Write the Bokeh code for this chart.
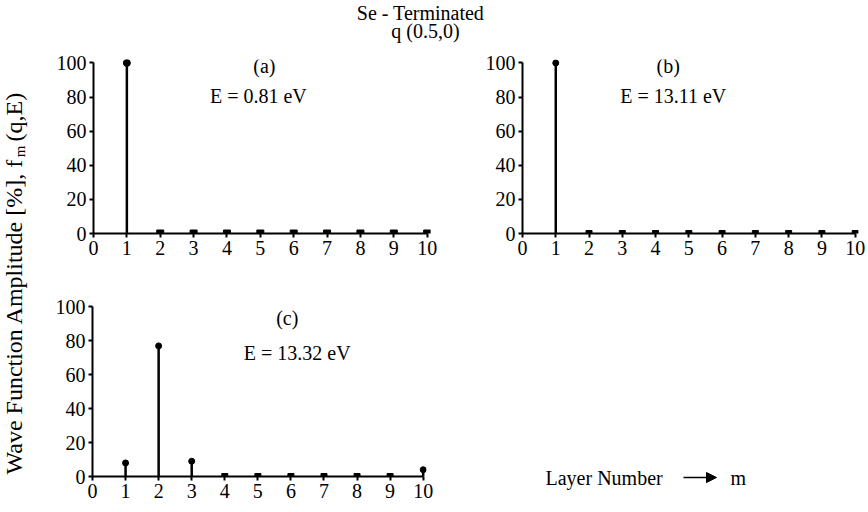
import numpy as np
from bokeh.plotting import figure
from bokeh.layouts import row, column
from bokeh.models import (Range1d, FixedTicker, Label, Arrow, NormalHead,
                          ColumnDataSource)
from bokeh.embed import file_html
from bokeh.resources import INLINE

# ---------------- data ----------------
layers = [1, 2, 3, 4, 5, 6, 7, 8, 9, 10]
amp_a = [100, 0, 0, 0, 0, 0, 0, 0, 0, 0]
amp_b = [100, 0, 0, 0, 0, 0, 0, 0, 0, 0]
amp_c = [8, 77, 9, 0, 0, 0, 0, 0, 0, 4]
x_ticks = [0, 1, 2, 3, 4, 5, 6, 7, 8, 9, 10]
y_ticks = [0, 20, 40, 60, 80, 100]
panel_tags = ["(a)", "(b)", "(c)"]
energies = ["E = 0.81 eV", "E = 13.11 eV", "E = 13.32 eV"]
title_lines = ["Se - Terminated", "q (0.5,0)"]
y_label_main = "Wave Function Amplitude [%], f"
y_label_sub = "m"
y_label_tail = "(q,E)"
x_label = "Layer Number"
x_symbol = "m"

FONT = "'Liberation Serif', 'Times New Roman', serif"
FS = "20px"


def blank(width, height, y_range=None, bt=0, bb=0):
    f = figure(width=width, height=height, x_range=Range1d(0, width),
               y_range=y_range if y_range is not None else Range1d(0, height),
               output_backend="svg",
               toolbar_location=None, x_axis_location=None,
               y_axis_location=None, min_border=0, title=None,
               min_border_top=bt, min_border_bottom=bb)
    f.grid.visible = False
    f.outline_line_color = None
    f.background_fill_color = "white"
    f.border_fill_color = "white"
    return f


def panel(vals, width, height, bl, br, bt, bb, tag, energy, tag_xy, e_xy,
          msize):
    p = figure(width=width, height=height, x_range=Range1d(0, 10.1),
               y_range=Range1d(0, 102), output_backend="svg",
               toolbar_location=None, title=None,
               min_border_left=bl, min_border_right=br,
               min_border_top=bt, min_border_bottom=bb)
    p.grid.visible = False
    p.outline_line_color = None
    p.background_fill_color = "white"
    p.border_fill_color = "white"

    for ax in (p.xaxis[0], p.yaxis[0]):
        ax.axis_line_width = 2
        ax.axis_line_color = "black"
        ax.major_tick_line_width = 2
        ax.major_tick_line_color = "black"
        ax.minor_tick_line_color = None
        ax.major_tick_in = 0
        ax.major_tick_out = 4
        ax.major_label_text_font = FONT
        ax.major_label_text_font_size = FS
        ax.major_label_text_color = "black"
    p.xaxis.ticker = FixedTicker(ticks=x_ticks)
    p.yaxis.ticker = FixedTicker(ticks=y_ticks)
    p.xaxis.bounds = (0, 10)
    p.yaxis.bounds = (0, 100)
    p.xaxis.major_label_standoff = 3
    p.yaxis.major_label_standoff = 3

    src = ColumnDataSource(dict(
        x=layers, y=vals,
        marker=["circle" if v > 0 else "square" for v in vals]))
    p.segment(x0="x", y0=0, x1="x", y1="y", source=src,
              line_color="black", line_width=2.5)
    p.scatter(x="x", y="y", marker="marker", size=msize, source=src,
              fill_color="black", line_color="black")

    p.add_layout(Label(x=tag_xy[0], y=tag_xy[1], text=tag, text_font=FONT,
                       text_font_size=FS, text_align="center",
                       text_baseline="middle", text_color="black"))
    p.add_layout(Label(x=e_xy[0], y=e_xy[1], text=energy, text_font=FONT,
                       text_font_size=FS, text_align="center",
                       text_baseline="middle", text_color="black"))
    return p


pa = panel(amp_a, 430, 227, 53, 40, 15, 38, panel_tags[0], energies[0],
           (5.12, 98.2), (4.94, 80.7), 7)
pb = panel(amp_b, 398, 227, 52, 10, 15, 38, panel_tags[1], energies[1],
           (4.38, 98.2), (4.53, 80.7), 6)
pc = panel(amp_c, 430, 241, 52, 44, 32, 36, panel_tags[2], energies[2],
           (5.89, 93.5), (6.19, 72.9), 6)

# title
pt = blank(828, 44)
pt.add_layout(Label(x=380, y=32, text=title_lines[0], text_font=FONT,
                    text_font_size=FS, text_align="center",
                    text_baseline="middle", text_color="black"))
pt.add_layout(Label(x=385, y=14, text=title_lines[1], text_font=FONT,
                    text_font_size=FS, text_align="center",
                    text_baseline="middle", text_color="black"))

# y label
py = blank(40, 512)
py.add_layout(Label(x=13, y=354, text=y_label_main, angle=np.pi / 2,
                    text_font=FONT, text_font_size="24px", text_align="right",
                    text_baseline="middle", text_color="black"))
py.add_layout(Label(x=19, y=361, text=y_label_sub, angle=np.pi / 2,
                    text_font=FONT, text_font_size="15px", text_align="center",
                    text_baseline="middle", text_color="black"))
py.add_layout(Label(x=13, y=371, text=y_label_tail, angle=np.pi / 2,
                    text_font=FONT, text_font_size="24px", text_align="left",
                    text_baseline="middle", text_color="black"))

# x label area (lower right); wrapped in its own column so its frame is
# not aligned with panel (c)'s frame
pd = blank(398, 241)
pd.add_layout(Label(x=75, y=35, text=x_label, text_font=FONT,
                    text_font_size=FS, text_align="left",
                    text_baseline="middle", text_color="black"))
pd.add_layout(Arrow(end=NormalHead(size=10, fill_color="black",
                                   line_color="black"),
                    x_start=213, y_start=35, x_end=246, y_end=35,
                    line_width=1.5, line_color="black"))
pd.add_layout(Label(x=260, y=35, text=x_symbol, text_font=FONT,
                    text_font_size=FS, text_align="left",
                    text_baseline="middle", text_color="black"))

layout = row(py, column(pt, row(pa, pb), row(pc, column(pd))))

open("out.html", "w").write(file_html(layout, INLINE))
